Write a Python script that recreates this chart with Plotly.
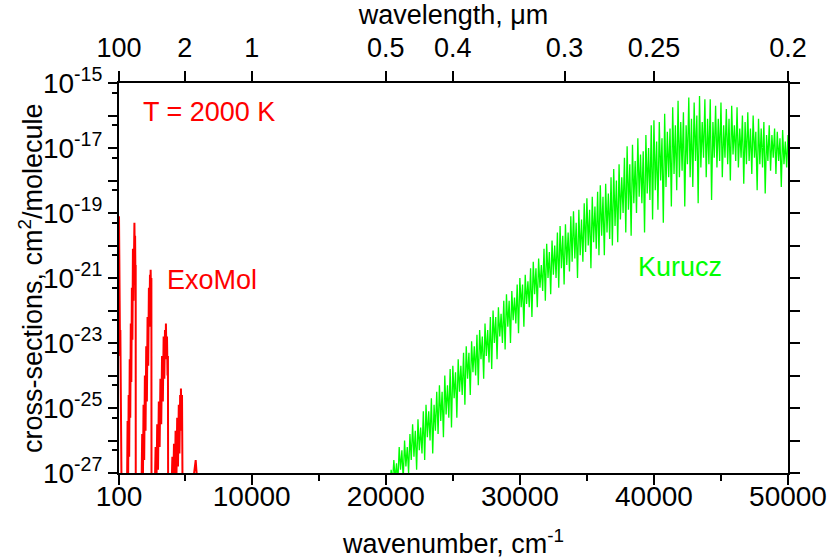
import plotly.graph_objects as go

# ---------------- data ----------------
# ExoMol cross-sections: wavenumber (cm^-1) and log10(sigma, cm^2/molecule)
exomol_wn = [
    100, 115, 130, 145, 160, 180, 200, 225, 250, 270, 280, 290,
    700, 740, 780, 820, 860, 900, 940, 980, 1020, 1060, 1100, 1140, 1180,
    1210, 1235, 1250, 1280, 1300, 1330, 1345, 1350,
    1780, 1830, 1880, 1930, 1980, 2030, 2080, 2130, 2180, 2230, 2280, 2330,
    2370, 2410, 2440, 2460, 2490, 2515, 2525,
    2770, 2830, 2890, 2950, 3010, 3070, 3130, 3190, 3250, 3310, 3370, 3430,
    3480, 3530, 3570, 3600, 3640, 3680, 3720, 3750, 3765,
    4020, 4080, 4140, 4200, 4260, 4320, 4380, 4440, 4500, 4560, 4610, 4660,
    4700, 4720, 4760, 4800, 4830, 4840,
    5560, 5650, 5720, 5780, 5820, 5870, 5930, 6010,
]
exomol_log = [
    -19.1, -20.6, -19.9, -21.8, -21.0, -23.4, -22.6, -25.3, -26.8, -27.5, -26.3, -27.5,
    -27.5, -25.4, -27.3, -24.6, -26.5, -23.5, -25.3, -22.4, -24.2, -21.3, -22.9, -20.1, -21.7,
    -19.5, -20.3, -19.3, -20.4, -19.7, -21.2, -20.6, -27.5,
    -27.5, -25.8, -27.4, -24.9, -26.6, -24.0, -25.7, -23.1, -24.8, -22.2, -23.7, -21.3,
    -22.5, -20.9, -21.8, -20.75, -21.5, -21.0, -27.5,
    -27.5, -26.2, -27.5, -25.5, -26.9, -24.8, -26.2, -24.1, -25.5, -23.4, -24.8, -22.8,
    -24.1, -22.6, -23.5, -22.4, -23.4, -22.8, -24.0, -23.4, -27.5,
    -27.5, -26.5, -27.6, -26.1, -27.5, -25.7, -27.3, -25.3, -26.8, -24.9, -26.4, -24.6,
    -25.7, -24.4, -25.4, -24.6, -25.8, -27.5,
    -27.5, -27.2, -27.0, -26.7, -26.6, -26.9, -27.2, -27.5,
]

# Kurucz cross-sections: wavenumber grid (cm^-1) and log10(sigma)
kurucz_wn = list(range(20100, 50001, 100))
kurucz_log = [
    -27.5, -27.2, -27.4, -26.9, -27.3, -26.6, -27.2, -26.7, -27.3, -26.2,
    -26.9, -26.3, -27.2, -26.0, -26.8, -26.2, -27.0, -25.8, -26.6, -25.5,
    -26.5, -25.7, -26.9, -25.35, -26.3, -25.6, -26.4, -25.1, -26.6, -24.9,
    -25.9, -25.1, -26.0, -24.7, -26.4, -24.9, -25.7, -24.5, -25.8, -24.3,
    -25.4, -24.5, -25.9, -24.0, -25.2, -24.3, -25.3, -23.8, -25.6, -23.7,
    -24.7, -23.9, -25.3, -23.5, -24.5, -23.7, -24.6, -23.3, -24.9, -23.1,
    -24.1, -23.3, -24.6, -22.95, -23.9, -23.1, -24.0, -22.75, -24.3, -22.6,
    -23.5, -22.8, -24.1, -22.4, -23.4, -22.6, -23.6, -22.2, -23.8, -22.0,
    -23.0, -22.2, -23.5, -21.9, -22.8, -22.1, -23.0, -21.7, -23.2, -21.5,
    -22.5, -21.7, -23.0, -21.4, -22.3, -21.6, -22.4, -21.2, -22.7, -21.0,
    -21.9, -21.2, -22.5, -20.9, -21.8, -21.1, -21.9, -20.7, -22.2, -20.5,
    -21.5, -20.7, -21.9, -20.4, -21.3, -20.6, -21.4, -20.1, -21.7, -19.95,
    -21.0, -20.2, -21.5, -19.85, -20.9, -20.0, -21.0, -19.6, -21.3, -19.4,
    -20.7, -19.7, -21.2, -19.35, -20.6, -19.6, -20.8, -19.1, -20.5, -18.95,
    -20.4, -19.3, -21.0, -18.9, -20.3, -19.2, -20.5, -18.7, -20.2, -18.55,
    -20.0, -18.9, -20.7, -18.5, -19.9, -18.8, -20.1, -18.35, -20.3, -18.15,
    -19.7, -18.5, -20.3, -18.1, -19.6, -18.4, -19.8, -17.9, -20.0, -17.65,
    -19.4, -18.0, -19.9, -17.5, -19.2, -17.9, -19.0, -17.3, -19.6, -16.95,
    -18.9, -17.5, -19.7, -16.9, -18.7, -17.4, -19.0, -16.7, -18.5, -17.2,
    -18.7, -17.1, -19.6, -16.6, -18.4, -17.0, -18.6, -16.3, -19.2, -16.15,
    -18.3, -16.8, -18.9, -16.2, -18.0, -16.7, -19.3, -15.95, -18.2, -16.5,
    -17.9, -16.4, -18.8, -15.75, -17.8, -16.3, -18.3, -15.55, -17.9, -16.2,
    -17.7, -15.9, -18.8, -16.3, -17.5, -15.45, -17.9, -16.1, -18.2, -15.6,
    -17.4, -16.0, -18.7, -15.4, -17.6, -16.2, -17.3, -15.5, -17.9, -16.1,
    -17.5, -15.5, -18.6, -16.2, -17.3, -15.7, -17.6, -16.1, -17.4, -15.6,
    -17.9, -16.3, -17.3, -15.8, -17.5, -16.1, -18.0, -15.7, -17.2, -16.3,
    -17.4, -15.75, -17.6, -16.4, -17.3, -16.0, -18.1, -16.2, -17.5, -15.9,
    -17.4, -16.4, -17.8, -16.0, -17.3, -16.5, -18.3, -16.1, -17.5, -16.4,
    -17.6, -16.2, -18.4, -16.6, -17.4, -16.3, -17.7, -16.6, -17.3, -16.4,
    -17.8, -16.5, -17.4, -16.7, -18.2, -16.45, -17.5, -16.8, -17.6, -16.6,
]

# axis ticks
x_major = [100, 10000, 20000, 30000, 40000, 50000]
x_major_text = ["100", "10000", "20000", "30000", "40000", "50000"]
x_minor = [5000, 15000, 25000, 35000, 45000]
top_wavelength_um = [100, 2, 1, 0.5, 0.4, 0.3, 0.25, 0.2]
top_wavelength_text = ["100", "2", "1", "0.5", "0.4", "0.3", "0.25", "0.2"]
y_decades = list(range(-27, -14))          # exponents -27 ... -15
y_labelled = [-27, -25, -23, -21, -19, -17, -15]
y_minor_mantissa = 5

# ---------------- figure ----------------
FONT = "Liberation Sans, Arial, sans-serif"
RED = "#ff0000"
GREEN = "#00ff00"

fig = go.Figure()
fig.add_trace(go.Scatter(
    x=exomol_wn, y=[10 ** v for v in exomol_log], mode="lines",
    line=dict(color=RED, width=2), xaxis="x", yaxis="y",
    showlegend=False, hoverinfo="skip"))
fig.add_trace(go.Scatter(
    x=kurucz_wn, y=[10 ** v for v in kurucz_log], mode="lines",
    line=dict(color=GREEN, width=1.3), xaxis="x2", yaxis="y2",
    showlegend=False, hoverinfo="skip"))

y_tickvals = [10.0 ** e for e in y_decades]
y_ticktext = [("10<sup>%d</sup>" % e) if e in y_labelled else "" for e in y_decades]
y_minor_vals = [y_minor_mantissa * 10.0 ** e for e in y_decades[:-1]]
top_tickvals = [1e4 / w for w in top_wavelength_um]

axis_common = dict(showline=True, linewidth=2, linecolor="black", showgrid=False,
                   zeroline=False, tickcolor="black", tickwidth=2, automargin=False)

fig.update_layout(
    width=827, height=559,
    margin=dict(l=119, r=39, t=83, b=86, autoexpand=False),
    paper_bgcolor="white", plot_bgcolor="white",
    font=dict(family=FONT, size=27, color="black"),
    showlegend=False,
    xaxis=dict(range=[100, 50000], tickmode="array", tickvals=x_major, ticktext=x_major_text,
               ticks="outside", ticklen=10, tickfont=dict(size=28), ticklabelstandoff=-13,
               minor=dict(tickmode="array", tickvals=x_minor, ticks="outside", ticklen=6,
                          tickwidth=2, tickcolor="black"),
               title=dict(text="wavenumber, cm<sup>-1</sup>", standoff=27, font=dict(size=27)),
               **axis_common),
    xaxis2=dict(range=[100, 50000], overlaying="x", side="top", anchor="y2",
                tickmode="array", tickvals=top_tickvals, ticktext=top_wavelength_text,
                ticks="outside", ticklen=10, tickfont=dict(size=27), ticklabelstandoff=3,
                title=dict(text="wavelength, μm", standoff=4, font=dict(size=27)),
                **axis_common),
    yaxis=dict(type="log", range=[-27, -15], tickmode="array", tickvals=y_tickvals,
               ticktext=y_ticktext, ticks="outside", ticklen=9, tickfont=dict(size=28),
               minor=dict(tickmode="array", tickvals=y_minor_vals, ticks="outside", ticklen=5,
                          tickwidth=2, tickcolor="black"),
               **axis_common),
    yaxis2=dict(type="log", range=[-27, -15], overlaying="y", side="right", anchor="x2",
                tickmode="array", tickvals=y_tickvals, ticks="outside", ticklen=10,
                showticklabels=False, **axis_common),
    annotations=[
        # y-axis title, placed to the left of the tick labels
        dict(text="cross-sections, cm<sup>2</sup>/molecule", x=-0.1315, y=0.5,
             xref="paper", yref="paper", xanchor="center", yanchor="middle",
             textangle=-90, showarrow=False, font=dict(color="black", size=27)),
        dict(text="T = 2000 K", x=6810, y=-15.89, xref="x", yref="y", showarrow=False,
             font=dict(color=RED, size=27)),
        dict(text="ExoMol", x=7072, y=-21.07, xref="x", yref="y", showarrow=False,
             font=dict(color=RED, size=27)),
        dict(text="Kurucz", x=41934, y=-20.67, xref="x", yref="y", showarrow=False,
             font=dict(color=GREEN, size=27)),
    ],
)

# remove the browser's default 8 px page margin so the figure fills the window exactly
fig.write_html("out.html", config={"displayModeBar": False},
               post_script="document.body.style.margin='0';")
